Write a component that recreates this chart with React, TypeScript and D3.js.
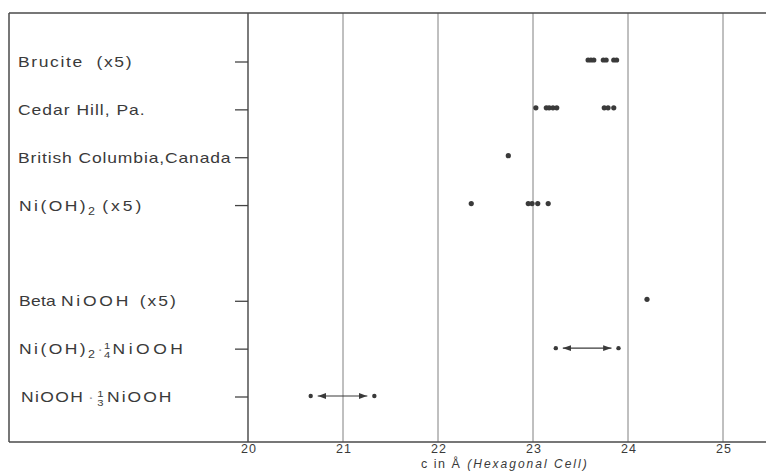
import React from "react";
import * as d3 from "d3";

const rowIds = ["brucite", "cedar", "bc", "nioh2", "gap", "beta", "quarter", "third"];
const xTicks = [20, 21, 22, 23, 24, 25];

const brucite = [23.58, 23.61, 23.64, 23.74, 23.77, 23.85, 23.88];
const cedarHill = [23.03, 23.14, 23.17, 23.21, 23.25, 23.75, 23.79, 23.85];
const britishColumbia = [22.74];
const niOH2 = [22.35, 22.95, 22.99, 23.05, 23.16];
const betaNiOOH = [24.2];
const niOH2QuarterRange = [23.24, 23.9];
const niOOHThirdRange = [20.66, 21.33];

const W = 766;
const H = 473;

export default function App() {
  const x = d3.scaleLinear().domain([20, 25]).range([248, 723]);
  const y = d3.scalePoint<string>().domain(rowIds).range([62, 397]);
  const frameLeft = 9;
  const frameTop = 13;
  const frameBottom = 442;
  const dotDy = -2;
  const ink = "#3a3a3a";
  const font = "'Liberation Sans', Arial, sans-serif";
  const stretch = 1.25;
  const labelStyle = { fontFamily: font, fontSize: 14, letterSpacing: 0.8, fill: ink } as const;

  const dotRows: [string, number[]][] = [
    ["brucite", brucite],
    ["cedar", cedarHill],
    ["bc", britishColumbia],
    ["nioh2", niOH2],
    ["beta", betaNiOOH],
    ["quarter", niOH2QuarterRange],
    ["third", niOOHThirdRange],
  ];
  const ranges: [string, number[]][] = [
    ["quarter", niOH2QuarterRange],
    ["third", niOOHThirdRange],
  ];

  const labelFor = (id: string) => {
    const yy = (y(id) as number) + 5;
    const tf = (x0: number) => `translate(${x0},${yy}) scale(${stretch},1)`;
    switch (id) {
      case "brucite":
        return (
          <text key={id} transform={tf(18)} style={{ ...labelStyle, letterSpacing: 1.3, wordSpacing: 5 }}>
            Brucite (x5)
          </text>
        );
      case "cedar":
        return (
          <text key={id} transform={tf(18)} style={{ ...labelStyle, letterSpacing: 0.8 }}>
            Cedar Hill, Pa.
          </text>
        );
      case "bc":
        return (
          <text key={id} transform={tf(18)} style={{ ...labelStyle, letterSpacing: 0.7 }}>
            British Columbia,Canada
          </text>
        );
      case "nioh2":
        return (
          <text key={id} transform={tf(19)} style={labelStyle}>
            <tspan style={{ letterSpacing: 1.95 }}>Ni(OH)</tspan>
            <tspan fontSize={10} dy={4}>2</tspan>
            <tspan dy={-4} dx={5} style={{ letterSpacing: 2.4 }}>(x5)</tspan>
          </text>
        );
      case "beta":
        return (
          <text key={id} transform={tf(19)} style={labelStyle}>
            <tspan style={{ letterSpacing: 0.2 }}>Beta</tspan>
            <tspan dx={4} style={{ letterSpacing: 2.2 }}>NiOOH</tspan>
            <tspan dx={7} style={{ letterSpacing: 1.6 }}>(x5)</tspan>
          </text>
        );
      case "quarter":
        return (
          <text key={id} transform={tf(19)} style={labelStyle}>
            <tspan style={{ letterSpacing: 1.95 }}>Ni(OH)</tspan>
            <tspan fontSize={10} dy={4}>2</tspan>
            <tspan dy={-4} dx={1} fill="#999">·</tspan>
            <tspan fontSize={9} dy={-5} dx={0}>1</tspan>
            <tspan fontSize={9} dy={9} dx={-5.8}>4</tspan>
            <tspan dy={-4} dx={1} style={{ letterSpacing: 2.8 }}>NiOOH</tspan>
          </text>
        );
      case "third":
        return (
          <text key={id} transform={tf(21)} style={labelStyle}>
            <tspan style={{ letterSpacing: 1.1 }}>NiOOH</tspan>
            <tspan dx={3} fill="#999">·</tspan>
            <tspan fontSize={9} dy={-5} dx={2}>1</tspan>
            <tspan fontSize={9} dy={9} dx={-5.8}>3</tspan>
            <tspan dy={-4} dx={2} style={{ letterSpacing: 1.6 }}>NiOOH</tspan>
          </text>
        );
      default:
        return null;
    }
  };

  return (
    <svg
      width={W}
      height={H}
      viewBox={`0 0 ${W} ${H}`}
      style={{ position: "absolute", left: 0, top: 0, background: "#fff" }}
    >
      <defs>
        <marker id="ah" viewBox="0 0 10 10" refX={10} refY={5} markerWidth={7} markerHeight={7} orient="auto-start-reverse">
          <path d="M0,1.5 L10,5 L0,8.5 z" fill={ink} />
        </marker>
      </defs>
      <rect x={0} y={0} width={W} height={H} fill="#fff" />

      {/* grid lines */}
      {xTicks.map((t) => (
        <line
          key={t}
          x1={x(t)}
          x2={x(t)}
          y1={frameTop}
          y2={frameBottom}
          stroke={t === 20 ? "#444" : "#808080"}
          strokeWidth={t === 20 ? 1.4 : 1}
        />
      ))}

      {/* frame */}
      <line x1={frameLeft} x2={W} y1={frameTop} y2={frameTop} stroke="#4a4a4a" strokeWidth={1.5} />
      <line x1={frameLeft} x2={W} y1={frameBottom} y2={frameBottom} stroke="#4a4a4a" strokeWidth={1.5} />
      <line x1={frameLeft} x2={frameLeft} y1={frameTop} y2={frameBottom} stroke="#4a4a4a" strokeWidth={1.5} />

      {/* row ticks */}
      {rowIds
        .filter((id) => id !== "gap")
        .map((id) => (
          <line key={id} x1={x(20) - 13} x2={x(20)} y1={y(id)} y2={y(id)} stroke="#444" strokeWidth={1.3} />
        ))}

      {/* labels */}
      {rowIds.map((id) => labelFor(id))}

      {/* range arrows */}
      {ranges.map(([id, r]) => (
        <line
          key={id}
          x1={x(r[0]) + 7}
          x2={x(r[1]) - 7}
          y1={(y(id) as number) + dotDy + 1}
          y2={(y(id) as number) + dotDy + 1}
          stroke={ink}
          strokeWidth={1.2}
          markerStart="url(#ah)"
          markerEnd="url(#ah)"
        />
      ))}

      {/* dots */}
      {dotRows.map(([id, vals]) =>
        vals.map((v, i) => (
          <circle
            key={id + i}
            cx={x(v)}
            cy={(y(id) as number) + dotDy + (id === "quarter" || id === "third" ? 1 : 0)}
            r={id === "quarter" || id === "third" ? 2.2 : 2.6}
            fill={ink}
          />
        ))
      )}

      {/* tick labels */}
      {xTicks.map((t) => (
        <text
          key={t}
          x={x(t) + 1}
          y={453}
          textAnchor="middle"
          style={{ fontFamily: font, fontSize: 12.5, fill: ink, letterSpacing: 1 }}
        >
          {t}
        </text>
      ))}

      {/* axis title */}
      <text x={421} y={468} style={{ fontFamily: font, fontSize: 12.5, fill: ink, letterSpacing: 1.5 }}>
        c  in Å
        <tspan dx={6} fontStyle="italic" fontSize={12} letterSpacing={2}>(Hexagonal Cell)</tspan>
      </text>
    </svg>
  );
}
